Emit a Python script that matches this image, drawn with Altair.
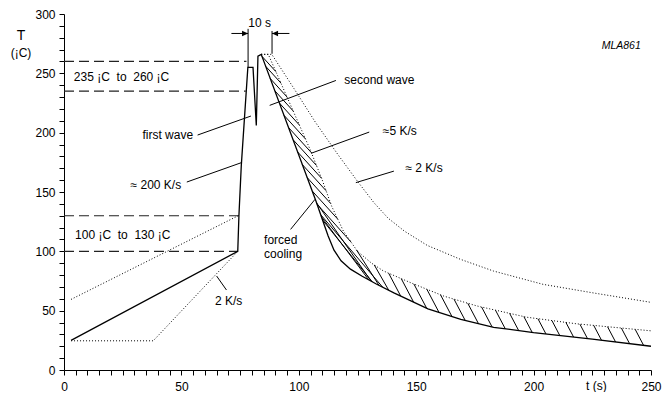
import altair as alt
import pandas as pd
import numpy as np

# ---------------- data ----------------
# main solid temperature profile
sol_x = [3, 74, 74.5, 75.5, 78.3, 80.5, 81.9, 82.6, 84, 107.3, 110, 112.5, 115, 118, 122, 127, 133,
         140.5, 155, 169, 183, 200, 225, 250]
sol_y = [25, 100, 130, 172, 255, 255, 206, 264.5, 266, 142.4, 127, 113, 101, 92, 85, 79, 72.5,
         65, 51.5, 42.6, 36, 31.5, 26, 20]
# inner dotted cooling limit (~5 K/s), upper edge of hatched band
d5_x = [84, 87, 99, 105, 110, 114, 119, 125, 131, 136, 147.6, 161.7, 175.8, 197, 218, 250]
d5_y = [266, 266, 212, 185, 160, 138, 117, 100, 90, 83.5, 73.6, 62.3, 54, 44.5, 39, 33]
# outer dotted cooling limit (~2 K/s)
d2_x = [84, 88.5, 98, 107, 116.5, 125, 132, 138, 145, 154.7, 168.8, 182.9, 204, 225.3, 250]
d2_y = [266, 266, 237, 209, 182, 159, 141, 128, 117, 105, 93.3, 83.4, 72.2, 65, 57]
# preheat dotted limits
pu_x = [3, 74.5]
pu_y = [59.5, 130.3]
pl_x = [3, 38, 74]
pl_y = [24.6, 24.6, 100]

# dashed reference levels
dash_y = [260, 235, 130, 100]
dash_x2 = [77.7, 77.4, 74.5, 74]

# labels
lab_left = ["235 ¡C\u00a0 to\u00a0 260 ¡C", "100 ¡C\u00a0 to\u00a0 130 ¡C", "second wave",
            "\u22485 K/s", "\u2248 2 K/s", "forced", "cooling", "2 K/s"]
lab_left_x = [4.2, 4.7, 119.4, 135.8, 145.4, 85.2, 85.2, 64.3]
lab_left_y = [247.2, 113.5, 244, 201.3, 170.5, 109.5, 97.5, 58.1]
lab_right = ["first wave", "\u2248 200 K/s"]
lab_right_x = [55, 49.9]
lab_right_y = [198, 155.6]

# leader lines (from label to curve)
ld_x = [56.9, 52.3, 115.8, 130, 140.5, 96.5, 69.2]
ld_y = [198, 158.4, 244, 200.5, 167.6, 118.5, 67.4]
ld_x2 = [79.6, 75.5, 87.6, 105.2, 124.3, 106.9, 65]
ld_y2 = [214, 174.7, 223, 182.6, 157.9, 143.8, 79.2]

# 10 s dimension marker
dim_x = [78.4, 88.6, 71.3, 88.6]
dim_y = [255, 266.5, 283.6, 283.6]
dim_x2 = [78.4, 88.6, 78.4, 96]
dim_y2 = [287.5, 285.7, 283.6, 283.6]

# ---------------- hatch lines between solid cooling curve and 5 K/s dotted ----------------
W, H = 587, 356
KX, KY = W / 250, H / 300  # px per data unit, for hatch geometry
ci = sol_x.index(84)
cx, cy = np.array(sol_x[ci:]), np.array(sol_y[ci:])
ux, uy = np.array(d5_x), np.array(d5_y)


def upper(x):
    return np.interp(x, ux, uy)


def lower(x):
    return np.interp(x, cx, cy)


xs = np.linspace(84.3, 250, 8000)
mid = (upper(xs) + lower(xs)) / 2
arc = np.concatenate([[0], np.cumsum(np.hypot(np.diff(xs) * KX, np.diff(mid) * KY))])
hatch = []
for a in np.arange(7, arc[-1] - 2, 14):
    ax = float(np.interp(a, arc, xs))
    ay = float(np.interp(ax, xs, mid))
    s = float(np.interp(ax, [112, 128, 140], [1.1, 1.5, 1.9]))
    m = -s * KX / KY
    t = np.arange(-40, 40, 0.01)
    x = ax + t
    y = ay + m * t
    inside = (x >= 84) & (x <= 250) & (y <= upper(x)) & (y >= lower(x))
    k0 = int(np.argmin(np.abs(t)))
    if not inside[k0]:
        continue
    lo = k0
    while lo > 0 and inside[lo - 1]:
        lo -= 1
    hi = k0
    while hi < len(t) - 1 and inside[hi + 1]:
        hi += 1
    hatch.append({"x": x[lo], "y": y[lo], "x2": x[hi], "y2": y[hi]})
hatch_df = pd.DataFrame(hatch)

# ---------------- chart ----------------
FONT = "Liberation Sans"
XS = alt.Scale(domain=[0, 250], nice=False, zero=False)
YS = alt.Scale(domain=[0, 300], nice=False, zero=False)
XA = alt.Axis(values=list(range(0, 251, 5)),
              labelExpr="datum.value % 50 === 0 ? datum.label : ''",
              tickSize=5, labelPadding=6, labelFlush=False, labelOverlap=False,
              grid=False, title=None, domainColor="black", tickColor="black",
              labelColor="black", labelFontSize=12, labelFont=FONT)
YA = alt.Axis(values=list(range(0, 301, 10)),
              labelExpr="datum.value % 50 === 0 ? datum.label : ''",
              tickSize=5, labelPadding=4, labelOverlap=False,
              grid=False, title=None, domainColor="black", tickColor="black",
              labelColor="black", labelFontSize=12, labelFont=FONT)


def X(f="x"):
    return alt.X(f"{f}:Q", scale=XS, axis=XA, title=None)


def Y(f="y"):
    return alt.Y(f"{f}:Q", scale=YS, axis=YA, title=None)


def poly(xv, yv, name):
    return pd.DataFrame({"x": xv, "y": yv, "i": list(range(len(xv))), "s": name})


solid_df = poly(sol_x, sol_y, "main")
dotted_df = pd.concat([poly(d5_x, d5_y, "d5"), poly(d2_x, d2_y, "d2"),
                       poly(pu_x, pu_y, "pu"), poly(pl_x, pl_y, "pl")])

solid = alt.Chart(solid_df).mark_line(color="black", strokeWidth=1.3).encode(
    x=X(), y=Y(), order="i:Q", detail="s:N")
dotted = alt.Chart(dotted_df).mark_line(color="black", strokeWidth=1, strokeDash=[1, 2]).encode(
    x=X(), y=Y(), order="i:Q", detail="s:N")
hatches = alt.Chart(hatch_df).mark_rule(color="black", strokeWidth=1).encode(
    x=X(), y=Y(), x2="x2:Q", y2="y2:Q")

dash_df = pd.DataFrame({"x": [0] * len(dash_y), "y": dash_y, "x2": dash_x2, "y2": dash_y})
dashed = alt.Chart(dash_df).mark_rule(color="#222", strokeWidth=1.2, strokeDash=[10, 5]).encode(
    x=X(), y=Y(), x2="x2:Q", y2="y2:Q")

lead_df = pd.DataFrame({"x": ld_x, "y": ld_y, "x2": ld_x2, "y2": ld_y2})
leaders = alt.Chart(lead_df).mark_rule(color="black", strokeWidth=1).encode(
    x=X(), y=Y(), x2="x2:Q", y2="y2:Q")

dim_df = pd.DataFrame({"x": dim_x, "y": dim_y, "x2": dim_x2, "y2": dim_y2})
dims = alt.Chart(dim_df).mark_rule(color="black", strokeWidth=1).encode(
    x=X(), y=Y(), x2="x2:Q", y2="y2:Q")
arr_r = alt.Chart(pd.DataFrame({"x": [78.4], "y": [283.6]})).mark_point(
    shape="M0,0L-1,-0.45L-1,0.45Z", filled=True, color="black", size=144, opacity=1,
    strokeWidth=0).encode(x=X(), y=Y())
arr_l = alt.Chart(pd.DataFrame({"x": [88.6], "y": [283.6]})).mark_point(
    shape="M0,0L1,-0.45L1,0.45Z", filled=True, color="black", size=144, opacity=1,
    strokeWidth=0).encode(x=X(), y=Y())

tl = alt.Chart(pd.DataFrame({"x": lab_left_x, "y": lab_left_y, "t": lab_left})).mark_text(
    align="left", baseline="middle", font=FONT, fontSize=12, color="black").encode(
    x=X(), y=Y(), text="t:N")
tr = alt.Chart(pd.DataFrame({"x": lab_right_x, "y": lab_right_y, "t": lab_right})).mark_text(
    align="right", baseline="middle", font=FONT, fontSize=12, color="black").encode(
    x=X(), y=Y(), text="t:N")
tc = alt.Chart(pd.DataFrame({"x": [83.3, 226.7, -18.3], "y": [292.7, -13.5, 267.4],
                             "t": ["10 s", "t (s)", "(¡C)"]})).mark_text(
    align="center", baseline="middle", font=FONT, fontSize=12, color="black").encode(
    x=X(), y=Y(), text="t:N")
tT = alt.Chart(pd.DataFrame({"x": [-18.3], "y": [281.4], "t": ["T"]})).mark_text(
    align="center", baseline="middle", font=FONT, fontSize=14, color="black").encode(
    x=X(), y=Y(), text="t:N")
tM = alt.Chart(pd.DataFrame({"x": [237.3], "y": [273], "t": ["MLA861"]})).mark_text(
    align="center", baseline="middle", font=FONT, fontSize=10.5, fontStyle="italic",
    color="black").encode(x=X(), y=Y(), text="t:N")

chart = alt.layer(hatches, dashed, dotted, solid, leaders, dims, arr_r, arr_l,
                  tl, tr, tc, tT, tM).properties(
    width=W, height=H,
    padding={"left": 56, "top": 6, "right": 11, "bottom": 22},
    autosize=alt.AutoSizeParams(type="none"),
).configure_view(stroke=None).configure_axis(domainWidth=1, tickWidth=1)

chart.save("out.html", embed_options={"renderer": "svg", "actions": False})
